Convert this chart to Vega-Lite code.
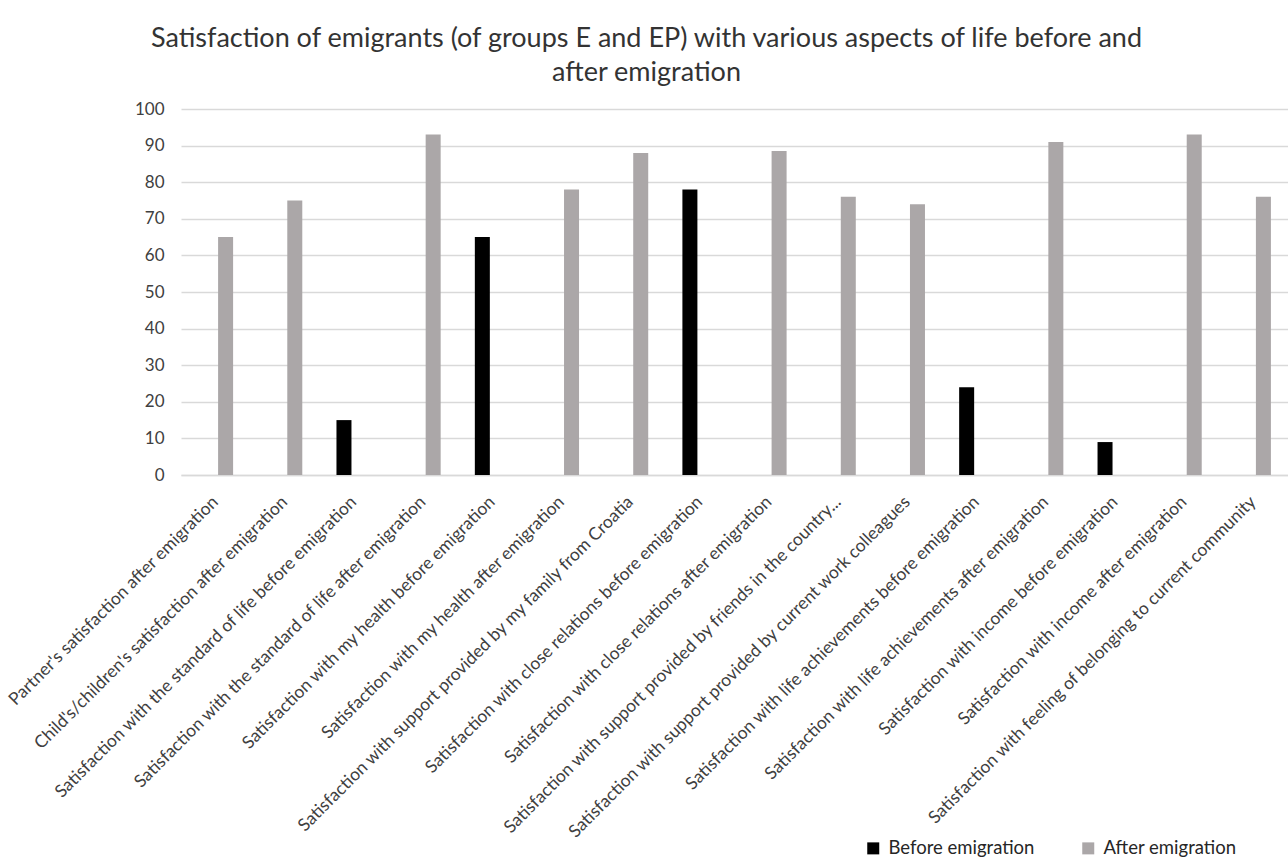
{
  "$schema": "https://vega.github.io/schema/vega-lite/v6.json",
  "autosize": "none",
  "width": 1107,
  "height": 366,
  "padding": {"left": 181, "top": 109, "right": 0, "bottom": 388},
  "background": "white",
  "config": {
    "font": "Lato",
    "view": {"stroke": null},
    "axis": {"labelFont": "Lato", "labelColor": "#404040"},
    "legend": {"labelFont": "Lato"}
  },
  "title": {
    "text": ["Satisfaction of emigrants (of groups E and EP) with various aspects of life before and", "after emigration"],
    "font": "Lato",
    "fontSize": 27,
    "fontWeight": "normal",
    "color": "#333333",
    "anchor": "middle",
    "frame": "group",
    "dx": -88,
    "lineHeight": 34,
    "offset": 13
  },
  "data": {
    "values": [
      {"aspect": "Partner's satisfaction after emigration", "period": "After emigration", "value": 65},
      {"aspect": "Child's/children's satisfaction after emigration", "period": "After emigration", "value": 75},
      {"aspect": "Satisfaction with the standard of life before emigration", "period": "Before emigration", "value": 15},
      {"aspect": "Satisfaction with the standard of life after emigration", "period": "After emigration", "value": 93},
      {"aspect": "Satisfaction with my health before emigration", "period": "Before emigration", "value": 65},
      {"aspect": "Satisfaction with my health after emigration", "period": "After emigration", "value": 78},
      {"aspect": "Satisfaction with support provided by my family from Croatia", "period": "After emigration", "value": 88},
      {"aspect": "Satisfaction with close relations before emigration", "period": "Before emigration", "value": 78},
      {"aspect": "Satisfaction with close relations after emigration", "period": "After emigration", "value": 88.5},
      {"aspect": "Satisfaction with support provided by friends in the country...", "period": "After emigration", "value": 76},
      {"aspect": "Satisfaction with support provided by current work colleagues", "period": "After emigration", "value": 74},
      {"aspect": "Satisfaction with life achievements before emigration", "period": "Before emigration", "value": 24},
      {"aspect": "Satisfaction with life achievements after emigration", "period": "After emigration", "value": 91},
      {"aspect": "Satisfaction with income before emigration", "period": "Before emigration", "value": 9},
      {"aspect": "Satisfaction with income after emigration", "period": "After emigration", "value": 93},
      {"aspect": "Satisfaction with feeling of belonging to current community", "period": "After emigration", "value": 76}
    ]
  },
  "mark": {"type": "bar"},
  "encoding": {
    "x": {
      "field": "aspect",
      "type": "nominal",
      "sort": null,
      "title": null,
      "scale": {"paddingInner": 0.494, "paddingOuter": 0.247},
      "axis": {
        "labelAngle": -45,
        "labelAlign": "right",
        "labelBaseline": "middle",
        "labelFontSize": 17.5,
        "labelLimit": 0,
        "labelPadding": 24,
        "ticks": false,
        "domainColor": "#d9d9d9",
        "domainWidth": 1.5,
        "grid": false
      }
    },
    "xOffset": {
      "field": "period",
      "type": "nominal",
      "sort": ["Before emigration", "After emigration"],
      "scale": {"domain": ["Before emigration", "After emigration"], "paddingInner": 0.25, "paddingOuter": 0}
    },
    "y": {
      "field": "value",
      "type": "quantitative",
      "title": null,
      "scale": {"domain": [0, 100], "nice": false},
      "axis": {
        "values": [0, 10, 20, 30, 40, 50, 60, 70, 80, 90, 100],
        "labelFontSize": 17,
        "labelPadding": 17,
        "ticks": false,
        "domain": false,
        "gridColor": "#d9d9d9",
        "gridWidth": 1.5
      }
    },
    "color": {
      "field": "period",
      "type": "nominal",
      "scale": {"domain": ["Before emigration", "After emigration"], "range": ["#000000", "#aba7a8"]},
      "legend": {
        "title": null,
        "orient": "none",
        "direction": "horizontal",
        "legendX": 683,
        "legendY": 730,
        "symbolType": "square",
        "symbolSize": 144,
        "symbolStrokeWidth": 0,
        "labelFontSize": 18.5,
        "labelColor": "#262626",
        "labelOffset": 6,
        "columnPadding": 44
      }
    }
  }
}
